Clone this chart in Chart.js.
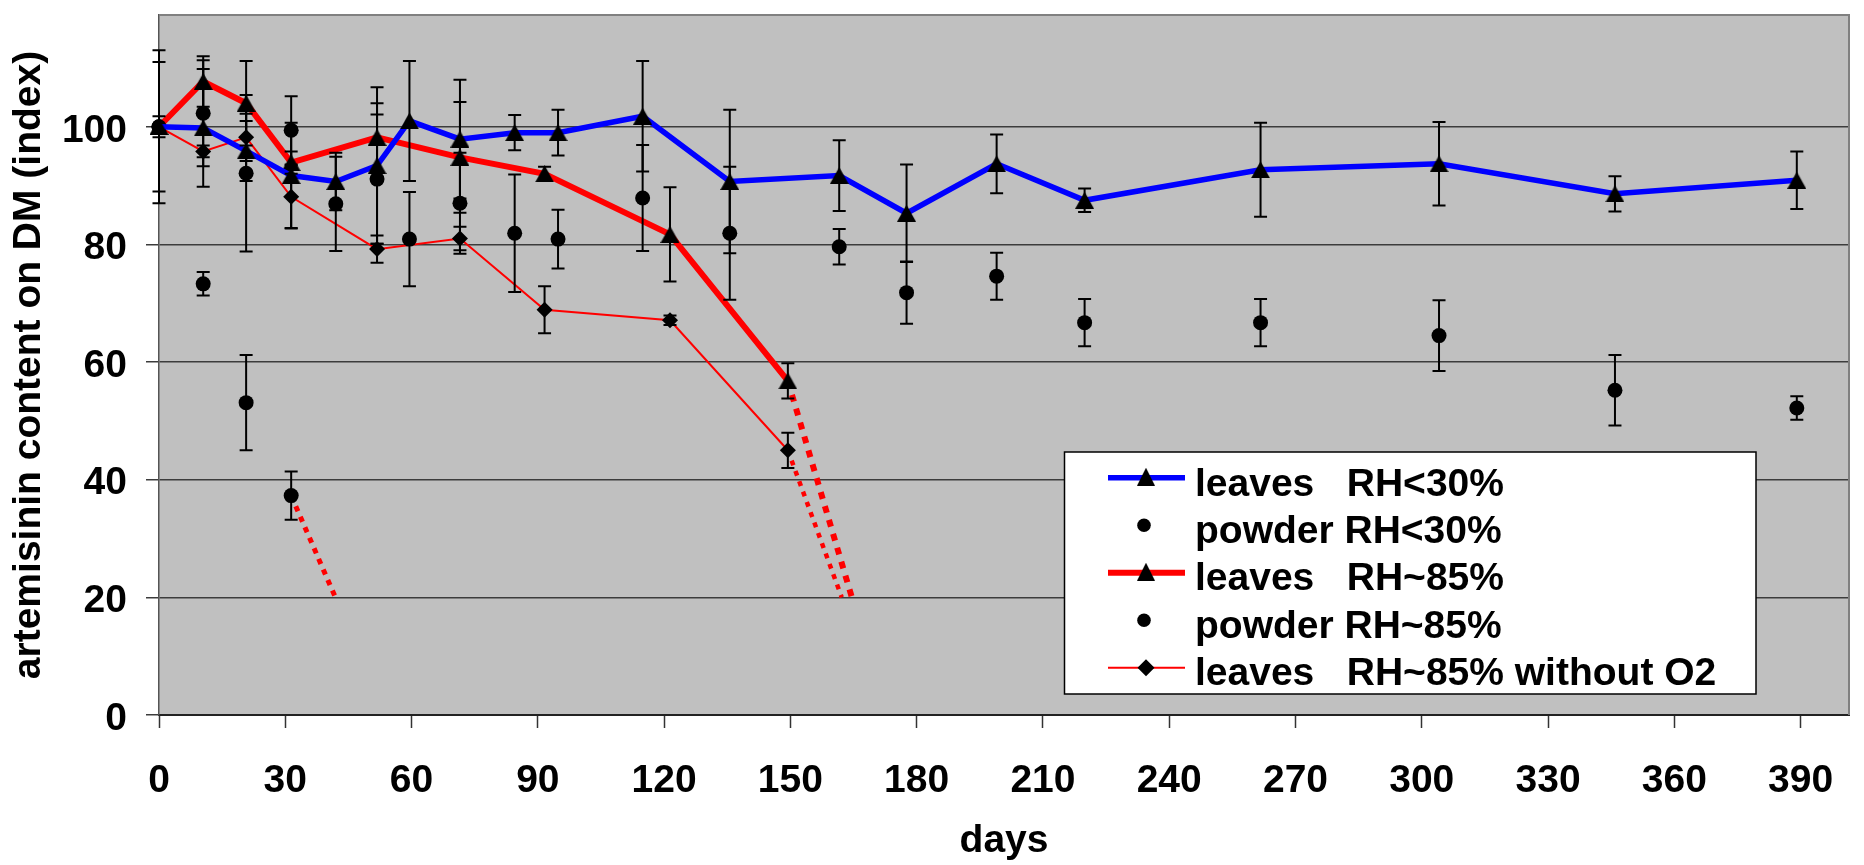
<!DOCTYPE html>
<html>
<head>
<meta charset="utf-8">
<script src="https://cdn.jsdelivr.net/npm/chart.js@4.4.1/dist/chart.umd.min.js"></script>
<style>
html,body{margin:0;padding:0;background:#fff;}
#wrap{width:1864px;height:865px;position:relative;}
</style>
</head>
<body>
<div id="wrap"><canvas id="c"></canvas></div>
<script>
// ---- tick labels ----
const X_TICKS = [0, 30, 60, 90, 120, 150, 180, 210, 240, 270, 300, 330, 360, 390];
const Y_TICKS = [0, 20, 40, 60, 80, 100];

// ---- series labels ----
const SERIES_LABELS = [
  'leaves   RH<30%',
  'powder RH<30%',
  'leaves   RH~85%',
  'powder RH~85%',
  'leaves   RH~85% without O2'
];

// ---- leaves RH<30% ----
const DAYS_LEAVES_DRY = [0, 10.5, 20.7, 31.4, 42, 51.8, 59.5, 71.5, 84.5, 94.8, 114.9, 135.6, 161.6, 177.6, 199, 219.9, 261.7, 304.1, 345.9, 389.1];
const LEAVES_DRY      = [100, 99.8, 95.9, 91.7, 90.7, 93.4, 101, 97.9, 99, 99, 101.8, 90.7, 91.7, 85.3, 93.7, 87.5, 92.7, 93.7, 88.6, 90.9];
const LEAVES_DRY_ERR  = [13, 10, 5.1, 9, 4.9, 13.3, 10.2, 10.1, 3, 3.9, 9.4, 12.2, 6, 8.3, 5, 2, 8, 7.1, 3, 4.9];

// ---- powder RH<30% ----
const DAYS_POWDER_DRY = [0, 10.5, 20.7, 31.4, 42, 51.8, 59.5, 71.5, 84.5, 94.8, 114.9, 135.6, 161.6, 177.6, 199, 219.9, 261.7, 304.1, 345.9, 389.1];
const POWDER_DRY      = [100, 102.3, 92.1, 99.4, 86.9, 91.1, 80.9, 87, 81.9, 80.9, 87.9, 81.9, 79.6, 71.8, 74.6, 66.7, 66.7, 64.5, 55.2, 52.2];
const POWDER_DRY_ERR  = [1.8, 9, 13.3, 5.8, 8, 11, 8, 8.6, 10, 5, 9, 11.3, 3, 5.3, 4, 4, 4, 6, 6, 2];

// ---- leaves RH~85% ----
const DAYS_LEAVES_WET = [0, 10.5, 20.7, 31.4, 51.8, 71.5, 91.6, 121.4, 149.4];
const LEAVES_WET      = [100, 107.7, 104, 93.9, 98.2, 94.8, 92, 81.7, 56.8];
const LEAVES_WET_ERR  = [11, 4.3, 7.2, 1.9, 5.8, 9.4, 1.2, 8, 3];

// ---- powder RH~85% ----
const DAYS_POWDER_WET = [0, 10.5, 20.7, 31.4];
const POWDER_WET      = [100, 73.3, 53.1, 37.3];
const POWDER_WET_ERR  = [0, 2, 8.1, 4.1];

// ---- leaves RH~85% without O2 ----
const DAYS_LEAVES_NOO2 = [0, 10.5, 20.7, 31.4, 51.8, 71.5, 91.6, 121.4, 149.4];
const LEAVES_NOO2      = [100, 95.8, 98.2, 88.1, 79.2, 81, 68.9, 67.1, 45];
const LEAVES_NOO2_ERR  = [0, 1, 4, 5.3, 2.3, 2, 4, 0.8, 3];

// ---- dotted extrapolations ----
const DAYS_EXT_LEAVES_WET = [149.4, 164.6];
const EXT_LEAVES_WET      = [56.8, 20];
const DAYS_EXT_NOO2       = [149.4, 162.2];
const EXT_NOO2            = [45, 20];
const DAYS_EXT_POWDER_WET = [31.4, 41.9];
const EXT_POWDER_WET      = [37.3, 20];

const pts = (xs, ys) => xs.map((x, i) => ({x: x, y: ys[i]}));

const FONT_FAMILY = '"Liberation Sans", Arial, Helvetica, sans-serif';
const FONT = {family: FONT_FAMILY, size: 39, weight: 'bold'};

function makeTriangle(w, h) {
  const c = document.createElement('canvas');
  c.width = w; c.height = h;
  const g = c.getContext('2d');
  g.fillStyle = '#000';
  g.beginPath();
  g.moveTo(w / 2, 0);
  g.lineTo(w, h);
  g.lineTo(0, h);
  g.closePath();
  g.fill();
  return c;
}
const TRI = makeTriangle(19, 17);
const TRI_LEG = makeTriangle(18, 18);

const bgPlugin = {
  id: 'plotBg',
  beforeDraw(chart) {
    const {ctx, chartArea: a} = chart;
    ctx.save();
    ctx.fillStyle = '#c0c0c0';
    ctx.fillRect(a.left, a.top, a.right - a.left, a.bottom - a.top);
    ctx.restore();
  },
  beforeDatasetsDraw(chart) {
    const {ctx, chartArea: a} = chart;
    ctx.save();
    ctx.strokeStyle = '#808080';
    ctx.lineWidth = 2;
    ctx.beginPath();
    ctx.moveTo(a.left, a.top);
    ctx.lineTo(a.right, a.top);
    ctx.lineTo(a.right, a.bottom);
    ctx.stroke();
    ctx.restore();
  }
};

const errorBars = {
  id: 'errorBars',
  afterDatasetsDraw(chart) {
    const {ctx, scales: {x, y}} = chart;
    ctx.save();
    ctx.strokeStyle = '#000';
    ctx.lineWidth = 2;
    chart.data.datasets.forEach(ds => {
      if (!ds.errors) return;
      ds.data.forEach((p, i) => {
        const e = ds.errors[i];
        if (!e) return;
        const px = x.getPixelForValue(p.x);
        const y1 = y.getPixelForValue(p.y + e);
        const y2 = y.getPixelForValue(p.y - e);
        ctx.beginPath();
        ctx.moveTo(px, y1); ctx.lineTo(px, y2);
        ctx.moveTo(px - 6.5, y1); ctx.lineTo(px + 6.5, y1);
        ctx.moveTo(px - 6.5, y2); ctx.lineTo(px + 6.5, y2);
        ctx.stroke();
      });
    });
    ctx.restore();
  }
};

const legendBox = {
  id: 'legendBox',
  afterDraw(chart) {
    const ctx = chart.ctx;
    ctx.save();
    ctx.fillStyle = '#fff';
    ctx.fillRect(1064.5, 452, 691.5, 242);
    ctx.strokeStyle = '#000';
    ctx.lineWidth = 1.5;
    ctx.strokeRect(1064.5, 452, 691.5, 242);
    const items = chart.data.datasets.filter(d => d.inLegend);
    items.forEach((ds, i) => {
      const ly = 477.7 + i * 47.5;
      const mx = 1146;
      if (ds.showLine) {
        ctx.strokeStyle = ds.borderColor;
        ctx.lineWidth = ds.borderWidth;
        ctx.beginPath();
        ctx.moveTo(1108, ly);
        ctx.lineTo(1185, ly);
        ctx.stroke();
      }
      ctx.fillStyle = '#000';
      if (ds.pointStyle === TRI) {
        ctx.drawImage(TRI_LEG, mx - TRI_LEG.width / 2, ly - TRI_LEG.height / 2 - 1);
      } else if (ds.pointStyle === 'circle') {
        ctx.beginPath();
        ctx.arc(mx - 2, ly, 6.8, 0, Math.PI * 2);
        ctx.fill();
      } else if (ds.pointStyle === 'rectRot') {
        const r = 8.5;
        ctx.beginPath();
        ctx.moveTo(mx, ly - r); ctx.lineTo(mx + r, ly); ctx.lineTo(mx, ly + r); ctx.lineTo(mx - r, ly);
        ctx.closePath();
        ctx.fill();
      }
      ctx.fillStyle = '#000';
      ctx.font = 'bold 39px ' + FONT_FAMILY;
      ctx.textBaseline = 'alphabetic';
      ctx.textAlign = 'left';
      ctx.fillText(ds.label, 1195, 495.7 + i * 47.3);
    });
    ctx.restore();
  }
};

const datasets = [
  {
    label: SERIES_LABELS[0], inLegend: true,
    data: pts(DAYS_LEAVES_DRY, LEAVES_DRY), errors: LEAVES_DRY_ERR,
    showLine: true, borderColor: '#0000ff', borderWidth: 5.5,
    pointStyle: TRI, pointRadius: 9, pointBackgroundColor: '#000', pointBorderColor: '#000', clip: false
  },
  {
    label: SERIES_LABELS[1], inLegend: true,
    data: pts(DAYS_POWDER_DRY, POWDER_DRY), errors: POWDER_DRY_ERR,
    showLine: false, borderColor: '#000', borderWidth: 0,
    pointStyle: 'circle', pointRadius: 7.5, pointBackgroundColor: '#000', pointBorderColor: '#000', pointBorderWidth: 0, clip: false
  },
  {
    label: SERIES_LABELS[2], inLegend: true,
    data: pts(DAYS_LEAVES_WET, LEAVES_WET), errors: LEAVES_WET_ERR,
    showLine: true, borderColor: '#ff0000', borderWidth: 6,
    pointStyle: TRI, pointRadius: 9, pointBackgroundColor: '#000', pointBorderColor: '#000', clip: false
  },
  {
    label: SERIES_LABELS[3], inLegend: true,
    data: pts(DAYS_POWDER_WET, POWDER_WET), errors: POWDER_WET_ERR,
    showLine: false, borderColor: '#000', borderWidth: 0,
    pointStyle: 'circle', pointRadius: 7.5, pointBackgroundColor: '#000', pointBorderColor: '#000', pointBorderWidth: 0, clip: false
  },
  {
    label: SERIES_LABELS[4], inLegend: true,
    data: pts(DAYS_LEAVES_NOO2, LEAVES_NOO2), errors: LEAVES_NOO2_ERR,
    showLine: true, borderColor: '#ff0000', borderWidth: 2,
    pointStyle: 'rectRot', pointRadius: 8, pointBackgroundColor: '#000', pointBorderColor: '#000', pointBorderWidth: 0, clip: false
  },
  {
    label: 'ext leaves RH~85%', data: pts(DAYS_EXT_LEAVES_WET, EXT_LEAVES_WET),
    showLine: true, borderColor: '#ff0000', borderWidth: 6, borderDash: [7, 7.5], pointRadius: 0, clip: false
  },
  {
    label: 'ext leaves RH~85% without O2', data: pts(DAYS_EXT_NOO2, EXT_NOO2),
    showLine: true, borderColor: '#ff0000', borderWidth: 4.5, borderDash: [5, 6], pointRadius: 0, clip: false
  },
  {
    label: 'ext powder RH~85%', data: pts(DAYS_EXT_POWDER_WET, EXT_POWDER_WET),
    showLine: true, borderColor: '#ff0000', borderWidth: 5, borderDash: [5.5, 6], pointRadius: 0, clip: false
  }
];

new Chart(document.getElementById('c'), {
  type: 'scatter',
  data: {datasets: datasets},
  options: {
    responsive: true,
    maintainAspectRatio: false,
    animation: false,
    events: [],
    layout: {padding: {top: 7, right: 7, left: 0, bottom: 0}},
    plugins: {legend: {display: false}, tooltip: {enabled: false}},
    scales: {
      x: {
        type: 'linear', min: 0, max: 401.5,
        afterBuildTicks: s => { s.ticks = X_TICKS.map(v => ({value: v})); },
        afterFit: s => { s.height = 150; s.paddingLeft = 0; s.paddingRight = 0; },
        ticks: {font: FONT, color: '#000', padding: 30, maxRotation: 0, autoSkip: false},
        grid: {drawOnChartArea: false, drawTicks: true, tickLength: 13, tickColor: '#333', tickWidth: 1.5},
        border: {color: '#222', width: 2},
        title: {display: true, text: 'days', font: FONT, color: '#000', padding: {top: 0, bottom: 0}}
      },
      y: {
        type: 'linear', min: 0, max: 119,
        afterBuildTicks: s => { s.ticks = Y_TICKS.map(v => ({value: v})); },
        afterFit: s => { s.width = 159; s.paddingTop = 0; s.paddingBottom = 0; },
        ticks: {font: FONT, color: '#000', padding: 19, labelOffset: 4},
        grid: {color: '#3c3c3c', lineWidth: 1.5, drawTicks: true, tickLength: 13, tickColor: '#3c3c3c', tickWidth: 1.5},
        border: {color: '#555', width: 1.5},
        title: {display: true, text: 'artemisinin content on DM (index)', font: FONT, color: '#000', padding: {top: 6, bottom: 0}}
      }
    }
  },
  plugins: [bgPlugin, errorBars, legendBox]
});
</script>
</body>
</html>
